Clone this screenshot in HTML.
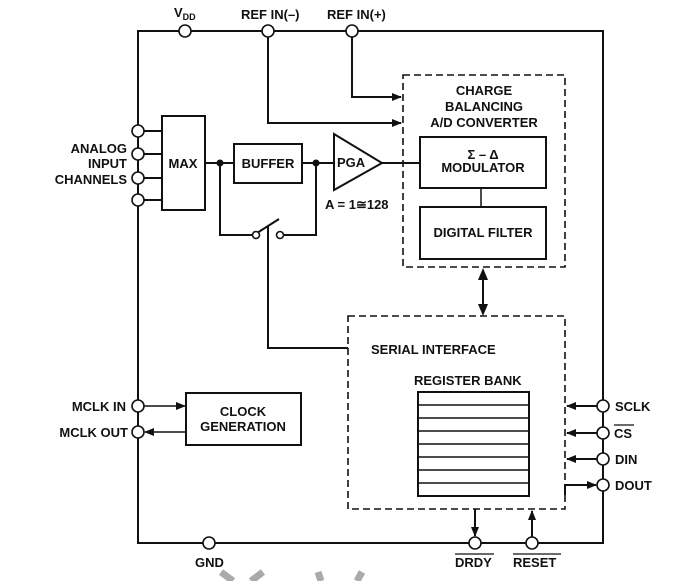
<!DOCTYPE html>
<html><head><meta charset="utf-8"><style>
body{margin:0;background:#fff;}
svg text{font-family:"Liberation Sans",sans-serif;font-weight:bold;font-size:13px;fill:#111;}
</style></head><body>
<svg width="683" height="581" viewBox="0 0 683 581" xmlns="http://www.w3.org/2000/svg">
<defs><marker id="a" markerWidth="10" markerHeight="8" refX="9" refY="4" orient="auto" markerUnits="userSpaceOnUse"><path d="M0,0 L10,4 L0,8z" fill="#111"/></marker></defs>
<g stroke="#111" stroke-width="2" fill="none">
<rect x="138" y="31" width="465" height="512"/>
<polyline points="352,31 352,97 401,97" marker-end="url(#a)"/>
<polyline points="268,31 268,123 401,123" marker-end="url(#a)"/>
<rect x="403" y="75" width="162" height="192" stroke-dasharray="7,4" stroke-width="1.6"/>
<rect x="420" y="137" width="126" height="51"/>
<rect x="420" y="207" width="126" height="52"/>
<line x1="481" y1="188" x2="481" y2="207" stroke-width="1.5"/>
<polygon points="334,134 382,163 334,190"/>
<line x1="382" y1="163" x2="420" y2="163"/>
<rect x="162" y="116" width="43" height="94"/>
<line x1="144" y1="131" x2="162" y2="131"/><line x1="144" y1="154" x2="162" y2="154"/>
<line x1="144" y1="178" x2="162" y2="178"/><line x1="144" y1="200" x2="162" y2="200"/>
<line x1="205" y1="163" x2="234" y2="163"/>
<rect x="234" y="144" width="68" height="39"/>
<line x1="302" y1="163" x2="334" y2="163"/>
<polyline points="220,163 220,235 252,235"/>
<polyline points="284,235 316,235 316,163"/>
<line x1="257" y1="233" x2="279" y2="219"/>
<polyline points="268,226 268,348 348,348"/>
<rect x="348" y="316" width="217" height="193" stroke-dasharray="7,4" stroke-width="1.6"/>
<rect x="418" y="392" width="111" height="104"/>
<line x1="483" y1="278" x2="483" y2="306"/>
<line x1="597" y1="406" x2="567" y2="406" marker-end="url(#a)"/>
<line x1="597" y1="433" x2="567" y2="433" marker-end="url(#a)"/>
<line x1="597" y1="459" x2="567" y2="459" marker-end="url(#a)"/>
<polyline points="565,495 565,485 596,485" marker-end="url(#a)"/>
<line x1="475" y1="509" x2="475" y2="536" marker-end="url(#a)"/>
<line x1="532" y1="537" x2="532" y2="511" marker-end="url(#a)"/>
<rect x="186" y="393" width="115" height="52"/>
<line x1="144" y1="406" x2="185" y2="406" stroke-width="1.5" marker-end="url(#a)"/>
<line x1="186" y1="432" x2="145" y2="432" stroke-width="1.5" marker-end="url(#a)"/>
</g>
<g stroke="#111" stroke-width="1.5">
<line x1="418" y1="405" x2="529" y2="405"/><line x1="418" y1="418" x2="529" y2="418"/>
<line x1="418" y1="431" x2="529" y2="431"/><line x1="418" y1="444" x2="529" y2="444"/>
<line x1="418" y1="457" x2="529" y2="457"/><line x1="418" y1="470" x2="529" y2="470"/>
<line x1="418" y1="483" x2="529" y2="483"/>
</g>
<path d="M478,280 L483,268 L488,280z M478,304 L483,316 L488,304z" fill="#111"/>
<circle cx="220" cy="163" r="3.5" fill="#111"/><circle cx="316" cy="163" r="3.5" fill="#111"/>
<g fill="#fff" stroke="#111" stroke-width="1.6">
<circle cx="185" cy="31" r="6"/><circle cx="268" cy="31" r="6"/><circle cx="352" cy="31" r="6"/>
<circle cx="138" cy="131" r="6"/><circle cx="138" cy="154" r="6"/><circle cx="138" cy="178" r="6"/><circle cx="138" cy="200" r="6"/>
<circle cx="138" cy="406" r="6"/><circle cx="138" cy="432" r="6"/>
<circle cx="209" cy="543" r="6"/><circle cx="475" cy="543" r="6"/><circle cx="532" cy="543" r="6"/>
<circle cx="603" cy="406" r="6"/><circle cx="603" cy="433" r="6"/><circle cx="603" cy="459" r="6"/><circle cx="603" cy="485" r="6"/>
<circle cx="256" cy="235" r="3.5"/><circle cx="280" cy="235" r="3.5"/>
</g>
<g stroke="#aaa" stroke-width="7" fill="none"><path d="M221,572 L233,581 M263,572 L251,581 M318,572 L321,581 M362,572 L357,581"/></g>
<text x="174" y="17">V<tspan font-size="9" dy="3">DD</tspan></text>
<text x="241" y="19">REF IN(–)</text>
<text x="327" y="19">REF IN(+)</text>
<text x="484" y="95" text-anchor="middle">CHARGE</text>
<text x="484" y="111" text-anchor="middle">BALANCING</text>
<text x="484" y="127" text-anchor="middle">A/D CONVERTER</text>
<text x="483" y="159" text-anchor="middle" font-size="15">Σ – Δ</text>
<text x="483" y="172" text-anchor="middle">MODULATOR</text>
<text x="483" y="237" text-anchor="middle">DIGITAL FILTER</text>
<text x="183" y="168" text-anchor="middle">MAX</text>
<text x="268" y="168" text-anchor="middle">BUFFER</text>
<text x="337" y="167">PGA</text>
<text x="325" y="209">A = 1≅128</text>
<text x="127" y="153" text-anchor="end">ANALOG</text>
<text x="127" y="168" text-anchor="end">INPUT</text>
<text x="127" y="184" text-anchor="end">CHANNELS</text>
<text x="371" y="354">SERIAL INTERFACE</text>
<text x="414" y="385">REGISTER BANK</text>
<text x="126" y="411" text-anchor="end">MCLK IN</text>
<text x="128" y="437" text-anchor="end">MCLK OUT</text>
<text x="243" y="416" text-anchor="middle">CLOCK</text>
<text x="243" y="431" text-anchor="middle">GENERATION</text>
<text x="615" y="411">SCLK</text>
<text x="614" y="438">CS</text><line x1="614" y1="425" x2="634" y2="425" stroke="#111" stroke-width="1.2"/>
<text x="615" y="464">DIN</text>
<text x="615" y="490">DOUT</text>
<text x="195" y="567">GND</text>
<text x="455" y="567">DRDY</text><line x1="455" y1="554" x2="494" y2="554" stroke="#111" stroke-width="1.2"/>
<text x="513" y="567">RESET</text><line x1="513" y1="554" x2="561" y2="554" stroke="#111" stroke-width="1.2"/>
</svg>
</body></html>
